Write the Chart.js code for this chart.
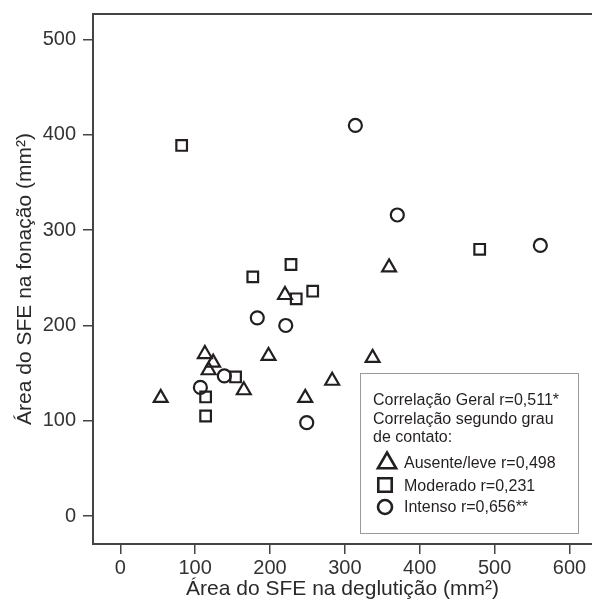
<!DOCTYPE html>
<html>
<head>
<meta charset="utf-8">
<script src="https://cdn.jsdelivr.net/npm/chart.js@4/dist/chart.umd.min.js"></script>
<style>
  html, body { margin: 0; padding: 0; background: #fff; }
</style>
</head>
<body>
<canvas id="chart" width="592" height="606"></canvas>
<script>
const FONT = '"Liberation Sans", Arial, Helvetica, sans-serif';
const INK = '#231f20';
const AXIS = '#444';

const xTicks = [0, 100, 200, 300, 400, 500, 600];
const yTicks = [0, 100, 200, 300, 400, 500];

const xTitle = 'Área do SFE na deglutição (mm²)';
const yTitle = 'Área do SFE na fonação (mm²)';

const legendHeader = [
  'Correlação Geral r=0,511*',
  'Correlação segundo grau',
  'de contato:'
];

// ausente/leve
const leveX = [54, 113, 124, 118, 165, 198, 247, 283, 337, 359, 220];
const leveY = [124, 170, 161, 153, 132, 168, 124, 142, 166, 261, 232];

// moderado
const modX = [82, 177, 228, 257, 235, 480, 154, 114, 114];
const modY = [389, 251, 264, 236, 228, 280, 146, 125, 105];

// intenso
const intX = [314, 370, 561, 183, 221, 107, 139, 249];
const intY = [410, 316, 284, 208, 200, 135, 147, 98];

function toPoints(xs, ys) {
  return xs.map((x, i) => ({ x: x, y: ys[i] }));
}

const topLine = {
  id: 'topLine',
  afterDraw(chart) {
    const { ctx, chartArea } = chart;
    ctx.save();
    ctx.strokeStyle = AXIS;
    ctx.lineWidth = 2;
    ctx.beginPath();
    ctx.moveTo(chartArea.left - 1, chartArea.top);
    ctx.lineTo(chartArea.right, chartArea.top);
    ctx.stroke();
    ctx.restore();
  }
};

const legendBox = {
  id: 'legendBox',
  afterDraw(chart) {
    const { ctx, chartArea } = chart;
    const left = chartArea.right - 232;
    const top = chartArea.bottom - 171;
    const w = 218, h = 160;

    ctx.save();
    ctx.strokeStyle = '#9a9a9a';
    ctx.lineWidth = 1;
    ctx.strokeRect(left + 0.5, top + 0.5, w, h);

    ctx.fillStyle = INK;
    ctx.font = '16px ' + FONT;
    ctx.textBaseline = 'alphabetic';
    ctx.textAlign = 'left';
    const headerY = [32, 51, 69];
    legendHeader.forEach((line, i) => ctx.fillText(line, left + 13, top + headerY[i]));

    const rows = [
      { my: 90, ty: 95, r: 10.5, mx: 27 },
      { my: 112, ty: 118, r: 9.5, mx: 25 },
      { my: 134, ty: 139, r: 7, mx: 25 }
    ];
    chart.data.datasets.forEach((ds, i) => {
      const row = rows[i];
      ctx.strokeStyle = INK;
      ctx.fillStyle = 'rgba(0,0,0,0)';
      ctx.lineWidth = 2.6;
      Chart.helpers.drawPoint(ctx, {
        pointStyle: ds.pointStyle, radius: row.r, rotation: 0, borderWidth: 2.6
      }, left + row.mx, top + row.my);
      ctx.fillStyle = INK;
      ctx.fillText(ds.label, left + 44, top + row.ty);
    });
    ctx.restore();
  }
};

const pointBase = {
  borderColor: INK,
  backgroundColor: 'rgba(0,0,0,0)',
  borderWidth: 2.2,
  showLine: false
};

new Chart(document.getElementById('chart'), {
  type: 'scatter',
  data: {
    datasets: [
      Object.assign({ label: 'Ausente/leve r=0,498', data: toPoints(leveX, leveY),
        pointStyle: 'triangle', pointRadius: 8 }, pointBase),
      Object.assign({ label: 'Moderado r=0,231', data: toPoints(modX, modY),
        pointStyle: 'rect', pointRadius: 7.5 }, pointBase),
      Object.assign({ label: 'Intenso r=0,656**', data: toPoints(intX, intY),
        pointStyle: 'circle', pointRadius: 6.5 }, pointBase)
    ]
  },
  options: {
    responsive: false,
    animation: false,
    layout: { autoPadding: false, padding: { top: 14, right: 0, left: 0, bottom: 0 } },
    plugins: {
      legend: { display: false },
      tooltip: { enabled: false }
    },
    scales: {
      x: {
        type: 'linear',
        min: -36.4,
        max: 630,
        afterBuildTicks: axis => { axis.ticks = xTicks.map(v => ({ value: v })); },
        afterFit: scale => {
          scale.height = 62;
          scale.paddingLeft = 0;
          scale.paddingRight = 0;
        },
        grid: { drawOnChartArea: false, drawTicks: true, tickLength: 10, color: AXIS, lineWidth: 1.5 },
        border: { color: AXIS, width: 2 },
        ticks: { font: { family: FONT, size: 20 }, color: '#333', padding: 2, maxRotation: 0 },
        title: { display: true, text: xTitle, font: { family: FONT, size: 21 }, color: '#2a2a2a',
          padding: { top: 0, bottom: 4 } }
      },
      y: {
        type: 'linear',
        min: -29.4,
        max: 527,
        afterBuildTicks: axis => { axis.ticks = yTicks.map(v => ({ value: v })); },
        afterFit: scale => {
          scale.width = 93;
          scale.paddingTop = 0;
          scale.paddingBottom = 0;
        },
        grid: { drawOnChartArea: false, drawTicks: true, tickLength: 10, color: AXIS, lineWidth: 1.5 },
        border: { color: AXIS, width: 2 },
        ticks: { font: { family: FONT, size: 20 }, color: '#333', padding: 7 },
        title: { display: true, text: yTitle, font: { family: FONT, size: 21 }, color: '#2a2a2a',
          padding: { top: 13, bottom: 0 } }
      }
    }
  },
  plugins: [topLine, legendBox]
});
</script>
</body>
</html>
